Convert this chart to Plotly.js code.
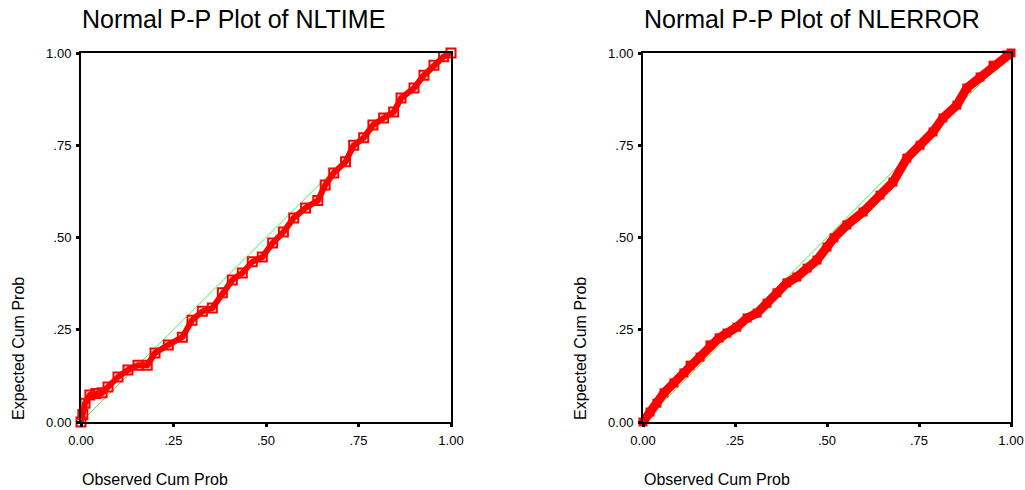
<!DOCTYPE html>
<html><head><meta charset="utf-8">
<script src="https://cdn.plot.ly/plotly-3.0.1.min.js"></script>
<style>html,body{margin:0;padding:0;background:#fff}#chart{width:1025px;height:490px}</style>
</head><body><div id="chart"></div>
<script>
// NLTIME: observed vs expected cumulative probabilities
const nltimeObserved = [0, 0.005, 0.011, 0.024, 0.04, 0.057, 0.073, 0.10, 0.127, 0.154, 0.179, 0.20, 0.236, 0.274, 0.30, 0.328, 0.355, 0.382, 0.409, 0.436, 0.463, 0.49, 0.518, 0.547, 0.575, 0.607, 0.64, 0.66, 0.683, 0.715, 0.737, 0.764, 0.789, 0.818, 0.845, 0.865, 0.90, 0.927, 0.954, 0.98, 1.0];
const nltimeExpected = [0, 0.02, 0.051, 0.073, 0.077, 0.079, 0.095, 0.122, 0.141, 0.154, 0.154, 0.187, 0.209, 0.23, 0.276, 0.30, 0.309, 0.35, 0.385, 0.404, 0.434, 0.447, 0.485, 0.515, 0.553, 0.58, 0.60, 0.642, 0.675, 0.705, 0.75, 0.77, 0.805, 0.824, 0.84, 0.878, 0.905, 0.94, 0.967, 0.99, 1.0];
// NLERROR
const nlerrorObserved = [0, 0.019, 0.038, 0.057, 0.084, 0.111, 0.128, 0.155, 0.182, 0.207, 0.228, 0.255, 0.283, 0.31, 0.337, 0.364, 0.391, 0.418, 0.446, 0.473, 0.50, 0.519, 0.554, 0.598, 0.644, 0.679, 0.717, 0.753, 0.788, 0.815, 0.853, 0.88, 0.916, 0.951, 0.989, 1.0];
const nlerrorExpected = [0, 0.027, 0.051, 0.079, 0.106, 0.133, 0.154, 0.176, 0.209, 0.228, 0.241, 0.257, 0.282, 0.295, 0.322, 0.35, 0.377, 0.393, 0.417, 0.439, 0.474, 0.499, 0.534, 0.569, 0.615, 0.65, 0.715, 0.75, 0.786, 0.824, 0.859, 0.905, 0.935, 0.967, 0.995, 1.0];
const refLine = [0, 1];
const tickVals = [0, 0.25, 0.5, 0.75, 1];
const tickText = ['0.00', '.25', '.50', '.75', '1.00'];
const titles = ['Normal P-P Plot of NLTIME', 'Normal P-P Plot of NLERROR'];
const xTitle = 'Observed Cum Prob';
const yTitle = 'Expected Cum Prob';

const RED = '#ff0000', GREEN = '#44ee44';
const font = {family: 'Liberation Sans, Arial, sans-serif', color: '#000'};

const traces = [
  {x: refLine, y: refLine, mode: 'lines', line: {color: GREEN, width: 1}, xaxis: 'x', yaxis: 'y', hoverinfo: 'skip'},
  {x: nltimeObserved, y: nltimeExpected, mode: 'lines+markers', line: {color: RED, width: 6},
   marker: {symbol: 'square-open', size: 9, color: RED, line: {width: 2, color: RED}}, xaxis: 'x', yaxis: 'y', cliponaxis: false},
  {x: refLine, y: refLine, mode: 'lines', line: {color: GREEN, width: 1}, xaxis: 'x2', yaxis: 'y2', hoverinfo: 'skip'},
  {x: nlerrorObserved, y: nlerrorExpected, mode: 'lines+markers', line: {color: RED, width: 9},
   marker: {symbol: 'square', size: 9, color: RED}, xaxis: 'x2', yaxis: 'y2', cliponaxis: false}
];

const W = 1025, H = 490;
const plotTop = 53, plotBottom = 422;
const yDom = [(H - plotBottom) / H, (H - plotTop) / H];
const leftDom = [81 / W, 451 / W];
const rightDom = [643 / W, 1011 / W];

function ax(dom, anchor) {
  return {domain: dom, anchor: anchor, range: [0, 1], tickvals: tickVals, ticktext: tickText,
    ticks: 'outside', ticklen: 3, tickwidth: 3, tickcolor: '#000', showgrid: false, zeroline: false,
    showline: true, linecolor: '#000', linewidth: 2, mirror: true, ticklabelstandoff: 2,
    tickfont: Object.assign({size: 13}, font), fixedrange: true};
}

const layout = {
  width: W, height: H, margin: {l: 0, r: 0, t: 0, b: 0}, showlegend: false,
  paper_bgcolor: '#fff', plot_bgcolor: '#fff',
  xaxis: ax(leftDom, 'y'), yaxis: ax(yDom, 'x'),
  xaxis2: ax(rightDom, 'y2'), yaxis2: ax(yDom, 'x2'),
  annotations: [
    {text: titles[0], xref: 'paper', yref: 'paper', x: 80 / W, y: 1 - 3 / H, xanchor: 'left', yanchor: 'top', showarrow: false, font: Object.assign({size: 25}, font)},
    {text: titles[1], xref: 'paper', yref: 'paper', x: 642 / W, y: 1 - 3 / H, xanchor: 'left', yanchor: 'top', showarrow: false, font: Object.assign({size: 25}, font)},
    {text: xTitle, xref: 'paper', yref: 'paper', x: 80 / W, y: 0, xanchor: 'left', yanchor: 'bottom', showarrow: false, font: Object.assign({size: 16}, font)},
    {text: xTitle, xref: 'paper', yref: 'paper', x: 642 / W, y: 0, xanchor: 'left', yanchor: 'bottom', showarrow: false, font: Object.assign({size: 16}, font)},
    {text: yTitle, xref: 'paper', yref: 'paper', x: 8 / W, y: (H - 422) / H, xanchor: 'left', yanchor: 'bottom', textangle: -90, showarrow: false, font: Object.assign({size: 16}, font)},
    {text: yTitle, xref: 'paper', yref: 'paper', x: 570 / W, y: (H - 422) / H, xanchor: 'left', yanchor: 'bottom', textangle: -90, showarrow: false, font: Object.assign({size: 16}, font)}
  ]
};

Plotly.newPlot('chart', traces, layout, {displayModeBar: false, staticPlot: true});
</script>
</body></html>
